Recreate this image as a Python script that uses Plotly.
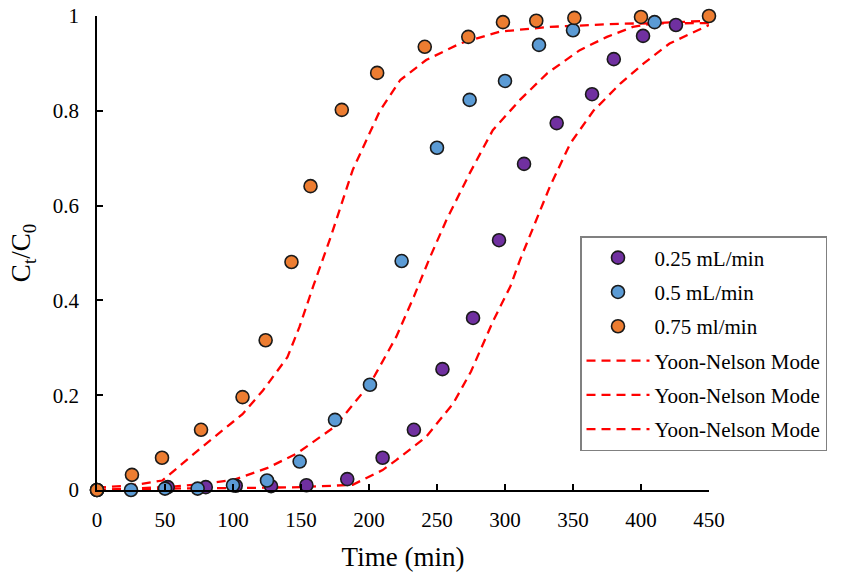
import plotly.graph_objects as go

# ---- data ----
t_025 = [0, 52, 80, 102, 128, 154, 184, 210, 233, 254, 276.5, 295.6, 314, 338, 364, 380, 401.5, 425.7]
c_025 = [0.0, 0.006, 0.006, 0.009, 0.008, 0.01, 0.023, 0.068, 0.127, 0.255, 0.363, 0.527, 0.688, 0.774, 0.835, 0.909, 0.958, 0.981]

t_05 = [0, 25, 50, 74, 100, 125, 149, 175, 200.7, 224, 250, 274, 300, 325, 350, 410]
c_05 = [0.0, 0.0, 0.003, 0.003, 0.01, 0.02, 0.06, 0.148, 0.222, 0.483, 0.722, 0.823, 0.863, 0.939, 0.970, 0.987]

t_075 = [0, 25.7, 47.8, 76.5, 107, 124, 143, 157, 180, 206, 241, 273, 298.5, 323, 351, 400, 450]
c_075 = [0.0, 0.032, 0.068, 0.127, 0.196, 0.316, 0.481, 0.641, 0.802, 0.880, 0.935, 0.956, 0.987, 0.99, 0.996, 0.998, 1.0]

# Yoon-Nelson model curves
tm_025 = [0, 50, 100, 150, 188, 210, 220, 242, 262, 275, 291, 304, 311, 322, 333, 348, 365, 385, 402, 421, 450]
cm_025 = [0.0, 0.003, 0.004, 0.006, 0.011, 0.042, 0.063, 0.112, 0.183, 0.25, 0.355, 0.43, 0.485, 0.563, 0.64, 0.731, 0.80, 0.858, 0.90, 0.942, 0.981]

tm_05 = [0, 25, 50, 75, 100, 125, 147, 175, 201, 220, 233, 245, 257, 274, 291, 311, 331, 355, 375, 394, 410, 450]
cm_05 = [0.0, 0.003, 0.006, 0.012, 0.021, 0.046, 0.077, 0.134, 0.225, 0.323, 0.408, 0.492, 0.570, 0.668, 0.759, 0.823, 0.879, 0.928, 0.956, 0.977, 0.985, 0.99]

tm_075 = [0, 26, 48, 77, 107, 122, 140, 149, 159, 172, 188, 208, 223, 242, 267, 296, 333, 387, 450]
cm_075 = [0.005, 0.01, 0.02, 0.09, 0.16, 0.21, 0.28, 0.345, 0.43, 0.535, 0.675, 0.80, 0.865, 0.907, 0.942, 0.967, 0.977, 0.984, 0.985]

x_ticks = [0, 50, 100, 150, 200, 250, 300, 350, 400, 450]
y_ticks = [0, 0.2, 0.4, 0.6, 0.8, 1]
y_ticktext = ["0", "0.2", "0.4", "0.6", "0.8", "1"]

FONT = "Liberation Serif, Times New Roman, serif"

fig = go.Figure()

def pts(x, y, name, color, rank):
    fig.add_trace(go.Scatter(
        x=x, y=y, mode="markers", name=name, legendrank=rank, legendgroup="g%d" % rank,
        marker=dict(size=13, color=color, line=dict(color="#1a1a1a", width=1.6)),
        cliponaxis=False))

def model(x, y, rank):
    fig.add_trace(go.Scatter(
        x=x, y=y, mode="lines", name="Yoon-Nelson Mode", legendrank=rank, legendgroup="g%d" % rank,
        line=dict(color="#FF0000", width=2.3, dash="9px,6px"),
        cliponaxis=False))

# model lines drawn first so markers are on top
model(tm_025, cm_025, 4)
model(tm_05, cm_05, 5)
model(tm_075, cm_075, 6)
pts(t_025, c_025, "0.25 mL/min", "#7030A0", 1)
pts(t_05, c_05, "0.5 mL/min", "#5B9BD5", 2)
pts(t_075, c_075, "0.75 ml/min", "#ED7D31", 3)

fig.update_layout(
    width=841, height=576,
    margin=dict(l=97, r=132, t=16, b=86),
    paper_bgcolor="white", plot_bgcolor="white",
    font=dict(family=FONT, size=18, color="black"),
    showlegend=True,
    legend=dict(
        x=(580 - 97) / 612, y=(490 - 236) / 474, xanchor="left", yanchor="top",
        bgcolor="white", bordercolor="#808080", borderwidth=1.5,
        font=dict(family=FONT, size=21, color="black"),
        traceorder="grouped", tracegroupgap=4,
        itemwidth=63,
    ),
    xaxis=dict(
        range=[0, 450], tickvals=x_ticks, ticks="inside", ticklen=6, tickwidth=1.5,
        tickcolor="black", showline=True, linecolor="black", linewidth=1.5,
        showgrid=False, zeroline=False, ticklabelstandoff=10, automargin=False,
        tickfont=dict(family=FONT, size=21),
        title=dict(text="Time (min)", font=dict(family=FONT, size=27), standoff=16),
    ),
    yaxis=dict(
        range=[0, 1], tickvals=y_ticks, ticktext=y_ticktext, ticks="inside", ticklen=6,
        tickwidth=1.5, tickcolor="black", showline=True, linecolor="black", linewidth=1.5,
        showgrid=False, zeroline=False, ticklabelstandoff=12, automargin=False,
        tickfont=dict(family=FONT, size=21),
        title=dict(text="C<sub>t</sub>/C<sub>0</sub>", font=dict(family=FONT, size=27), standoff=14),
    ),
)

fig.write_html("out.html")
